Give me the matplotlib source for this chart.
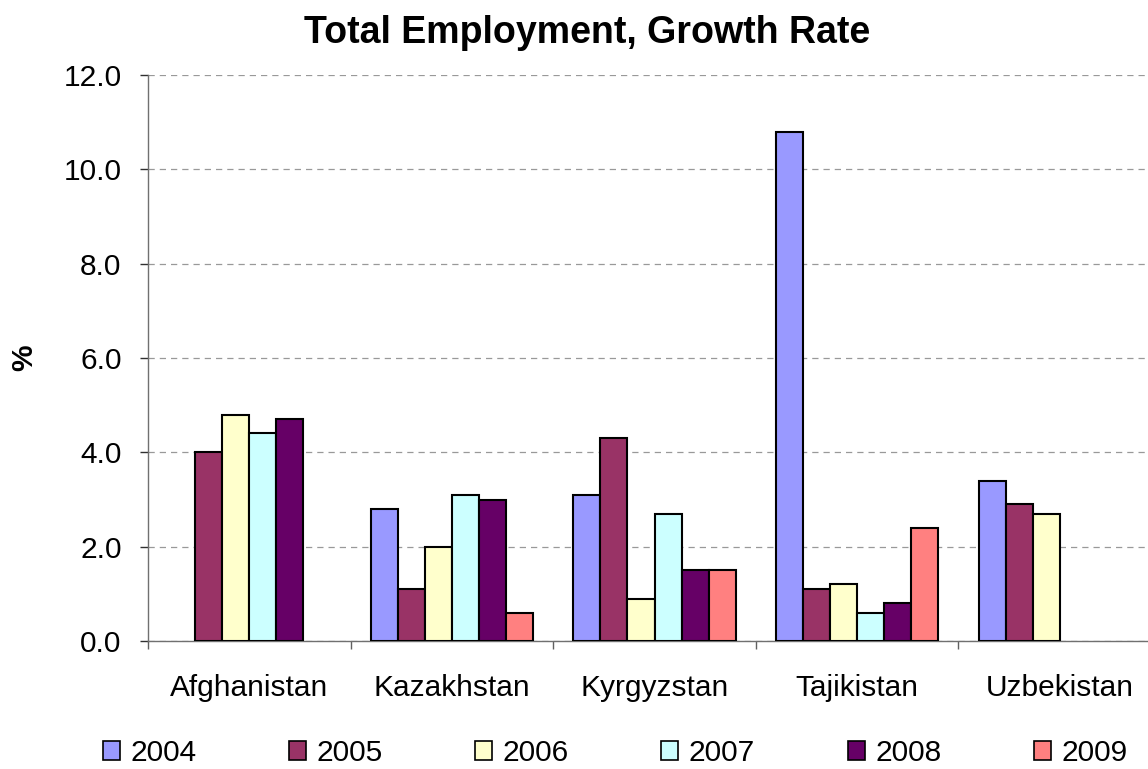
import numpy as np
import matplotlib
matplotlib.use("Agg")
import matplotlib.pyplot as plt
from matplotlib.patches import Patch

plt.rcParams['font.family'] = ['Liberation Sans', 'DejaVu Sans']

countries = ["Afghanistan", "Kazakhstan", "Kyrgyzstan", "Tajikistan", "Uzbekistan"]
years = ["2004", "2005", "2006", "2007", "2008", "2009"]
colors = ["#9999FF", "#993366", "#FFFFCC", "#CCFFFF", "#660066", "#FF8080"]

v2004 = [np.nan, 2.8, 3.1, 10.8, 3.4]
v2005 = [4.0, 1.1, 4.3, 1.1, 2.9]
v2006 = [4.8, 2.0, 0.9, 1.2, 2.7]
v2007 = [4.4, 3.1, 2.7, 0.6, np.nan]
v2008 = [4.7, 3.0, 1.5, 0.8, np.nan]
v2009 = [np.nan, 0.6, 1.5, 2.4, np.nan]
series = [v2004, v2005, v2006, v2007, v2008, v2009]
yticks = [0, 2, 4, 6, 8, 10, 12]

FS = 21.5

fig = plt.figure(figsize=(11.48, 7.69), dpi=100)
ax = fig.add_axes([148/1148, 1-641/769, 1013/1148, 566/769])

x = np.arange(len(countries))
w = 1/7.5
for i, (vals, c) in enumerate(zip(series, colors)):
    ax.bar(x + (i-2.5)*w, vals, width=w, color=c, edgecolor='black', linewidth=1.5, zorder=3)

ax.set_xlim(-0.5, len(countries)-0.5)
ax.set_ylim(0, 12)
ax.set_yticks(yticks)
ax.set_yticklabels([f"{t:.1f}" for t in yticks], fontsize=FS)
ax.yaxis.grid(True, linestyle=(0, (5, 4)), color='#999999', linewidth=0.9, zorder=0)
ax.set_xticks(x)
ax.set_xticklabels(countries, fontsize=FS)
ax.tick_params(axis='x', which='major', length=0, pad=24)
ax.set_xticks(np.arange(-0.5, len(countries)), minor=True)
ax.tick_params(axis='x', which='minor', length=6, width=1.0, color='#606060', direction='out')
ax.tick_params(axis='y', length=6, width=1.0, color='#303030', direction='out', pad=13)
for s in ['top', 'right']:
    ax.spines[s].set_visible(False)
for s in ['left', 'bottom']:
    ax.spines[s].set_color('#707070')
    ax.spines[s].set_linewidth(1.0)

ax.set_ylabel("%", fontsize=FS, fontweight='bold')
ax.yaxis.set_label_coords((38-148)/1013, 0.5)
fig.text(587/1148, 1-33/769, "Total Employment, Growth Rate", fontsize=27, fontweight='bold',
         ha='center', va='center')

handles = [Patch(facecolor=c, edgecolor='black', linewidth=1.2) for c in colors]
fig.legend(handles, years, loc='center', bbox_to_anchor=(615/1148, 1-753/769), ncol=6,
           frameon=False, fontsize=FS, handlelength=0.57, handleheight=0.57,
           handletextpad=0.35, columnspacing=3.1, borderpad=0)

fig.savefig("out.png", dpi=100)
